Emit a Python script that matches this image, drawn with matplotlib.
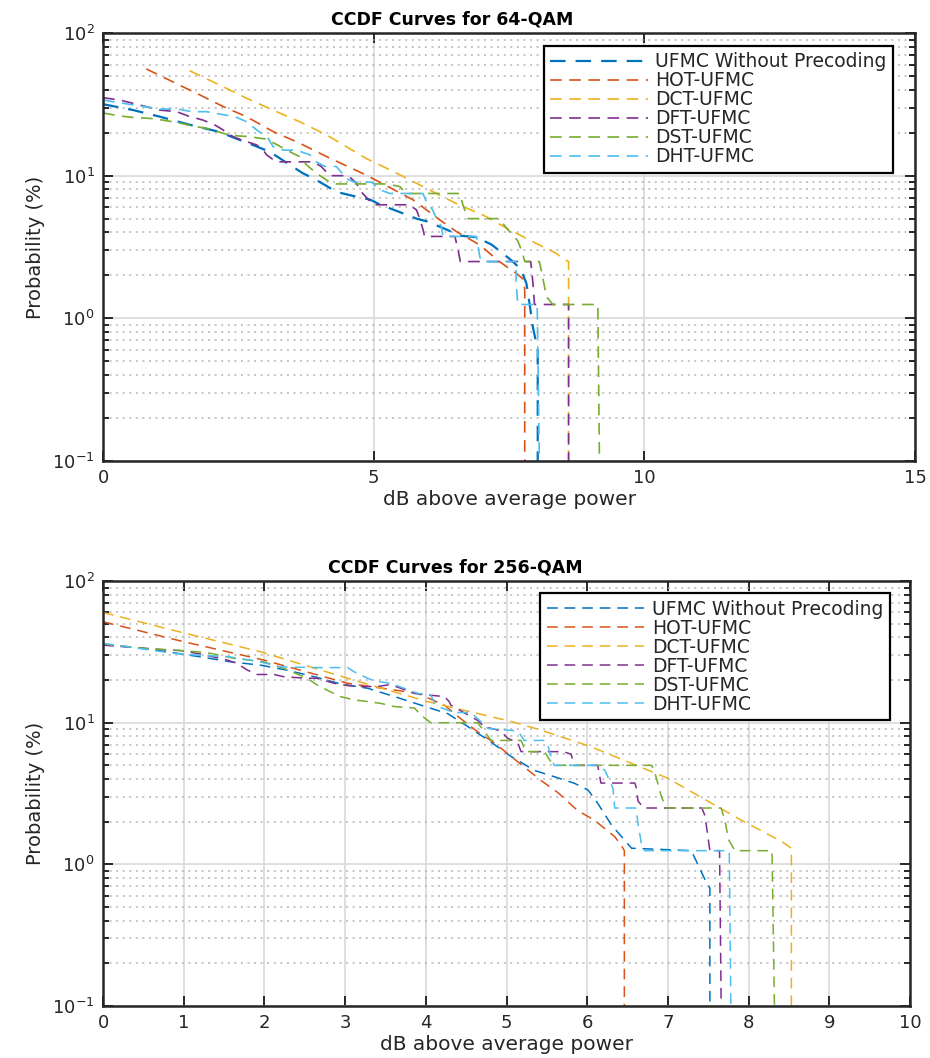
import matplotlib
matplotlib.use("Agg")
import matplotlib.pyplot as plt
from matplotlib.ticker import LogLocator, NullFormatter, FixedLocator

plt.rcParams['font.family'] = ['DejaVu Sans']

labels = ["UFMC Without Precoding", "HOT-UFMC", "DCT-UFMC", "DFT-UFMC", "DST-UFMC", "DHT-UFMC"]
colors = ["#0072BD", "#D95319", "#EDB120", "#7E2F8E", "#77AC30", "#4DBEEE"]

# ---------------- 64-QAM ----------------
q64_ufmc_x = [0, 0.56, 1.05, 1.57, 2.12, 2.77, 3.08, 3.27, 3.45, 3.69, 3.88, 4.1, 4.31, 4.56, 4.93, 5.07,
              5.3, 5.51, 5.79, 5.97, 6.34, 6.59, 6.89, 7.17, 7.36, 7.57, 7.72, 7.82, 7.88, 7.94, 8.03, 8.03]
q64_ufmc_y = [31.7, 28.8, 25.9, 22.9, 20.4, 16.4, 14.7, 13.2, 11.9, 10.4, 9.6, 8.6, 7.7, 7.3, 6.8, 6.4,
              5.9, 5.5, 5.0, 4.8, 4.2, 3.8, 3.7, 3.3, 2.9, 2.5, 2.2, 1.76, 1.26, 0.87, 0.6, 0.1]

q64_hot_x = [0.8, 1.42, 1.79, 2.22, 2.65, 3.14, 3.63, 4.13, 4.86, 5.73, 6.22, 6.53, 6.96, 7.32, 7.63, 7.75, 7.79, 7.79]
q64_hot_y = [56, 43, 36.8, 30.5, 25.9, 20.4, 16.9, 13.6, 10.1, 6.76, 4.9, 4.05, 3.27, 2.5, 2.07, 1.9, 1.6, 0.1]

q64_dct_x = [1.6, 2.22, 2.65, 3.14, 3.63, 4.13, 4.86, 5.36, 5.79, 6.22, 6.59, 7.02, 7.45, 7.94, 8.37, 8.5, 8.6, 8.6]
q64_dct_y = [54.4, 42, 34.9, 28.8, 23.9, 19.3, 13.2, 10.7, 8.85, 7.3, 6.2, 5.3, 4.3, 3.44, 2.86, 2.6, 2.5, 0.1]

q64_dft_x = [0, 0.31, 0.56, 0.87, 1.05, 1.36, 1.57, 1.85, 2.07, 2.22, 2.28, 2.47, 2.84, 2.96, 3.02, 3.2,
             3.88, 4.03, 4.19, 4.53, 4.68, 4.77, 4.99, 5.66, 5.79, 5.85, 5.91, 5.94, 6.5, 6.56, 6.6,
             7.9, 7.94, 7.97, 8.6, 8.6]
q64_dft_y = [35.2, 33.9, 32.1, 30.0, 28.8, 28.1, 26.2, 24.5, 22.6, 20.9, 19.8, 18.3, 16.4, 15.1, 14.0, 12.5,
             12.5, 11.6, 10.0, 10.0, 8.85, 7.7, 6.25, 6.25, 5.75, 5.0, 4.2, 3.75, 3.75, 3.0, 2.5,
             2.5, 1.8, 1.25, 1.25, 0.1]

q64_dst_x = [0, 0.31, 0.56, 0.87, 1.11, 1.39, 1.73, 1.91, 2.22, 2.4, 2.68, 2.99, 3.2, 3.39, 3.63, 3.76,
             3.94, 4.19, 4.3, 5.23, 5.48, 5.6, 6.59, 6.65, 6.74, 7.32, 7.45, 7.66, 7.75, 7.79, 8.06,
             8.12, 8.19, 8.31, 9.14, 9.17]
q64_dst_y = [27.5, 26.2, 25.6, 25.2, 24.5, 23.5, 22.0, 21.5, 19.8, 19.1, 18.8, 18.1, 16.6, 15.1, 13.6, 11.9,
             10.4, 9.0, 8.75, 8.75, 8.4, 7.5, 7.5, 6.2, 5.0, 5.0, 4.3, 3.5, 2.86, 2.5, 2.5,
             1.96, 1.42, 1.25, 1.25, 0.1]

q64_dht_x = [0, 0.56, 1.05, 1.38, 1.64, 1.91, 2.16, 2.44, 2.65, 2.84, 3.05, 3.14, 3.33, 3.57, 3.82, 3.94,
             4.1, 4.31, 4.5, 4.65, 4.96, 5.14, 5.3, 5.91, 5.97, 6.09, 6.16, 6.25, 6.28, 6.9, 6.96, 7.0,
             7.63, 7.63, 7.66, 8.02, 8.06]
q64_dht_y = [33.9, 31.3, 29.3, 29.3, 28.1, 28.1, 27.0, 25.9, 23.9, 20.9, 18.3, 16.0, 15.1, 15.1, 14.0, 12.5,
             11.6, 11.6, 9.5, 9.0, 9.0, 7.9, 7.5, 7.5, 6.6, 5.75, 5.0, 4.4, 3.75, 3.75, 2.7, 2.5,
             2.5, 1.86, 1.25, 1.25, 0.1]

# ---------------- 256-QAM ----------------
q256_ufmc_x = [0, 0.5, 0.87, 1.2, 1.58, 1.95, 2.28, 2.65, 2.94, 3.28, 3.61, 3.94, 4.27, 4.52, 4.77, 5.06,
               5.35, 5.59, 5.84, 6.01, 6.13, 6.3, 6.55, 7.29, 7.46, 7.52, 7.52]
q256_ufmc_y = [35.7, 33.5, 31.2, 29.2, 26.9, 25.5, 23.5, 20.9, 18.8, 17.5, 15.3, 13.3, 11.6, 9.4, 7.55, 5.76,
               4.6, 4.16, 3.74, 3.35, 2.7, 1.9, 1.3, 1.25, 0.78, 0.68, 0.1]

q256_hot_x = [0, 1.0, 1.99, 3.03, 3.9, 4.23, 4.43, 4.64, 4.85, 5.06, 5.43, 5.64, 5.88, 6.09, 6.34, 6.42, 6.46, 6.46]
q256_hot_y = [51.6, 37.3, 27.7, 19.0, 16.1, 13.3, 10.7, 8.65, 7.2, 5.76, 3.9, 3.2, 2.4, 2.05, 1.57, 1.37, 1.25, 0.1]

q256_dct_x = [0, 0.94, 1.95, 3.03, 4.02, 5.06, 5.39, 6.05, 7.0, 7.87, 8.41, 8.53, 8.53]
q256_dct_y = [60, 43.9, 31.7, 20.6, 14.1, 10.2, 9.0, 6.76, 4.05, 2.11, 1.45, 1.3, 0.1]

q256_dft_x = [0, 0.79, 0.96, 1.2, 1.54, 1.66, 1.79, 1.91, 2.12, 2.24, 2.53, 2.65, 2.86, 3.03, 3.19, 3.4,
              3.56, 3.69, 3.86, 4.02, 4.23, 4.29, 4.31, 4.64, 4.72, 4.93, 5.01, 5.14, 5.18, 5.7, 5.8,
              5.84, 6.13, 6.17, 6.59, 6.61, 6.63, 6.7, 7.42, 7.46, 7.5, 7.52, 7.64, 7.66]
q256_dft_y = [35.3, 32.6, 32.3, 30.6, 27.7, 26.2, 23.5, 21.9, 21.9, 21.1, 20.6, 20.6, 19.0, 18.3, 18.0, 18.0,
              18.6, 17.5, 16.1, 15.7, 15.3, 14.1, 13.3, 10.4, 9.4, 8.75, 7.8, 7.2, 6.25, 6.25, 6.0,
              5.0, 5.0, 3.75, 3.75, 3.44, 2.8, 2.5, 2.5, 2.2, 1.5, 1.25, 1.25, 0.1]

q256_dst_x = [0, 0.5, 0.87, 1.16, 1.33, 1.62, 1.99, 2.24, 2.53, 2.65, 2.82, 2.94, 3.11, 3.28, 3.44, 3.61,
              3.86, 3.94, 4.06, 4.64, 4.72, 4.81, 5.18, 5.24, 5.47, 5.55, 5.59, 6.8, 6.84, 6.92, 6.98,
              7.66, 7.71, 7.75, 7.83, 8.29, 8.32]
q256_dst_y = [36, 33.5, 32.6, 31.7, 30.9, 28.5, 26.9, 24.2, 20.6, 18.5, 16.5, 15.3, 14.5, 14.1, 13.7, 13.0,
              12.7, 11.3, 10.0, 10.0, 8.75, 7.5, 7.5, 6.25, 6.25, 5.3, 5.0, 5.0, 4.4, 3.0, 2.5,
              2.5, 2.0, 1.5, 1.25, 1.25, 0.1]

q256_dht_x = [0, 0.5, 0.87, 1.16, 1.54, 1.91, 2.2, 2.61, 3.03, 3.11, 3.28, 3.36, 3.56, 3.73, 3.9, 4.06,
              4.1, 4.15, 4.35, 4.56, 4.68, 4.77, 5.14, 5.22, 5.47, 5.51, 5.55, 5.59, 6.13, 6.22, 6.32,
              6.34, 6.6, 6.63, 6.67, 6.71, 7.76, 7.78]
q256_dht_y = [36.3, 33.1, 30.9, 30.0, 29.3, 27.2, 24.8, 24.5, 24.5, 22.9, 20.6, 19.7, 19.0, 17.5, 16.1, 15.7,
              14.1, 13.0, 11.8, 11.8, 10.2, 9.1, 8.75, 7.5, 7.5, 7.0, 5.76, 5.0, 5.0, 4.6, 3.44,
              2.5, 2.5, 1.95, 1.41, 1.25, 1.25, 0.1]

q64_series = [(q64_ufmc_x, q64_ufmc_y), (q64_hot_x, q64_hot_y), (q64_dct_x, q64_dct_y),
              (q64_dft_x, q64_dft_y), (q64_dst_x, q64_dst_y), (q64_dht_x, q64_dht_y)]
q256_series = [(q256_ufmc_x, q256_ufmc_y), (q256_hot_x, q256_hot_y), (q256_dct_x, q256_dct_y),
               (q256_dft_x, q256_dft_y), (q256_dst_x, q256_dst_y), (q256_dht_x, q256_dht_y)]

q64_xticks = [0, 5, 10, 15]
q256_xticks = list(range(0, 11))

fig = plt.figure(figsize=(9.3, 10.58), dpi=100)
ax1 = fig.add_axes([0.1108, 0.5643, 0.8731, 0.4045])
ax2 = fig.add_axes([0.1108, 0.0491, 0.8677, 0.4017])

dark = "#262626"


def style(ax, xmax, xticks, title, title_x, series, lws, leg_anchor):
    for (xs, ys), c, lab, lw in zip(series, colors, labels, lws):
        ax.plot(xs, ys, color=c, lw=lw, linestyle=(0, (7, 4.5)), label=lab)
    ax.set_yscale('log')
    ax.set_xlim(0, xmax)
    ax.set_ylim(0.1, 100)
    ax.xaxis.set_major_locator(FixedLocator(xticks))
    ax.set_xticklabels([str(t) for t in xticks])
    ax.yaxis.set_major_locator(LogLocator(base=10, numticks=10))
    ax.yaxis.set_minor_locator(LogLocator(base=10, subs=range(2, 10), numticks=20))
    ax.yaxis.set_minor_formatter(NullFormatter())
    ax.grid(True, which='major', color='#dcdcdc', lw=1.3, linestyle='-')
    ax.grid(True, which='minor', axis='y', color='#b4b4b4', lw=1.1, linestyle=(0, (1.3, 3)))
    ax.set_axisbelow(True)
    for sp in ax.spines.values():
        sp.set_color(dark)
        sp.set_linewidth(1.8)
    ax.tick_params(which='both', direction='in', top=True, right=True, colors=dark,
                   labelsize=13, width=1.4)
    ax.tick_params(which='major', length=7, pad=6)
    ax.tick_params(which='minor', length=4)
    ax.set_xlabel("dB above average power", fontsize=14.5, color=dark, labelpad=2)
    ax.set_ylabel("Probability (%)", fontsize=14, color=dark, labelpad=5)
    ax.set_title(title, fontsize=12.5, fontweight='bold', color='black', pad=6, x=title_x)
    leg = ax.legend(loc='upper right', bbox_to_anchor=leg_anchor, borderaxespad=0,
                    fontsize=13.5, handlelength=5.2, handletextpad=0.4, labelspacing=0.0,
                    borderpad=0.35, fancybox=False, framealpha=1, edgecolor='black')
    leg.get_frame().set_linewidth(1.6)
    for t in leg.get_texts():
        t.set_color(dark)


style(ax1, 15, q64_xticks, "CCDF Curves for 64-QAM", 0.43, q64_series,
      [1.6, 1.2, 1.2, 1.2, 1.2, 1.2], (0.973, 0.970))
style(ax2, 10, q256_xticks, "CCDF Curves for 256-QAM", 0.437, q256_series,
      [1.1, 1.1, 1.1, 1.1, 1.1, 1.1], (0.975, 0.972))

fig.savefig("out.png", dpi=100)
